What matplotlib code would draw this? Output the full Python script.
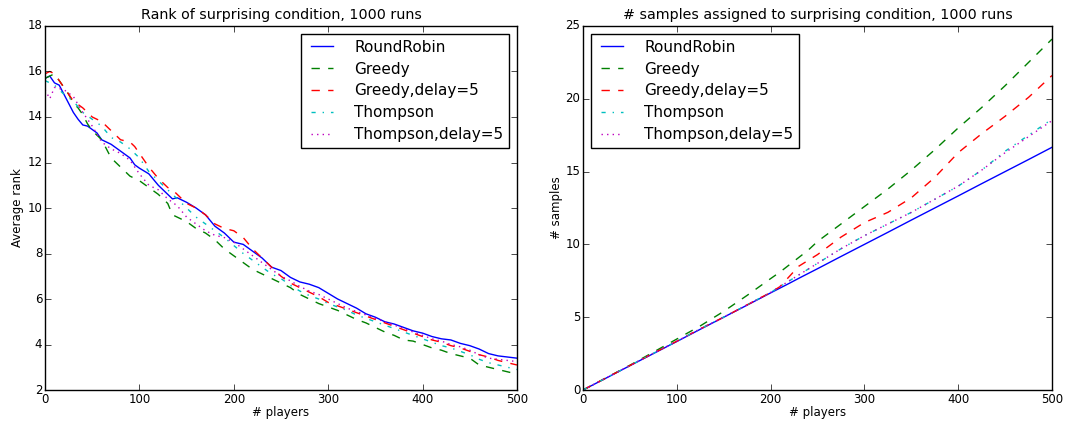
import matplotlib
matplotlib.use('Agg')
from matplotlib import pyplot as plt

plt.style.use('classic')

labels = ['RoundRobin', 'Greedy', 'Greedy,delay=5', 'Thompson', 'Thompson,delay=5']
colors = ['b', 'g', 'r', 'c', 'm']
styles = ['-', '--', '--', '-.', ':']

# 왼쪽: 평균 순위
x_rank = [0, 5, 10, 15, 20, 25, 30, 35, 40, 45, 50, 55, 60, 70, 80, 90, 95, 100, 110, 120,
          130, 135, 140, 150, 160, 170, 180, 190, 200, 210, 220, 230, 240, 250, 260, 270,
          280, 290, 300, 310, 320, 330, 340, 350, 360, 370, 380, 390, 400, 410, 420, 430,
          440, 450, 460, 470, 480, 490, 500]
rank_rr = [15.7, 15.8, 15.5, 15.4, 15.0, 14.6, 14.2, 13.9, 13.65, 13.6, 13.45, 13.3, 13.0,
           12.8, 12.5, 12.2, 11.9, 11.75, 11.5, 11.0, 10.6, 10.4, 10.45, 10.25, 10.0, 9.7,
           9.2, 8.9, 8.5, 8.4, 8.1, 7.8, 7.4, 7.25, 6.95, 6.75, 6.65, 6.5, 6.25, 6.0, 5.8,
           5.6, 5.35, 5.2, 5.0, 4.9, 4.75, 4.6, 4.5, 4.35, 4.25, 4.2, 4.05, 3.95, 3.8, 3.6,
           3.5, 3.45, 3.4]
rank_greedy = [15.7, 15.8, 15.9, 15.6, 15.3, 15.0, 14.6, 14.4, 14.1, 13.7, 13.4, 13.2, 13.0,
               12.2, 11.8, 11.4, 11.3, 11.2, 10.9, 10.6, 10.2, 9.7, 9.6, 9.4, 9.1, 8.9, 8.6,
               8.2, 7.9, 7.6, 7.3, 7.1, 6.9, 6.7, 6.5, 6.2, 6.0, 5.8, 5.65, 5.5, 5.3, 5.1,
               4.95, 4.75, 4.55, 4.4, 4.2, 4.15, 4.0, 3.85, 3.75, 3.6, 3.5, 3.4, 3.1, 3.0,
               2.9, 2.8, 2.7]
rank_greedy_d = [15.9, 16.0, 15.9, 15.6, 15.3, 15.0, 14.7, 14.55, 14.4, 14.2, 14.0, 13.9,
                 13.8, 13.4, 13.0, 12.9, 12.7, 12.4, 11.8, 11.3, 10.9, 10.8, 10.6, 10.2, 10.0,
                 9.7, 9.3, 9.1, 9.0, 8.7, 8.2, 7.8, 7.4, 7.0, 6.7, 6.5, 6.3, 6.1, 5.85, 5.7,
                 5.55, 5.4, 5.25, 5.1, 4.95, 4.8, 4.65, 4.5, 4.35, 4.2, 4.1, 3.95, 3.85, 3.7,
                 3.55, 3.45, 3.3, 3.2, 3.1]
rank_thompson = [15.6, 15.5, 15.4, 15.2, 15.0, 14.85, 14.7, 14.45, 14.2, 14.05, 13.9, 13.75,
                 13.6, 13.1, 12.9, 12.6, 12.4, 12.2, 11.6, 11.2, 10.8, 10.6, 10.4, 10.0, 9.6,
                 9.3, 9.0, 8.7, 8.35, 8.0, 7.7, 7.4, 7.1, 6.9, 6.6, 6.35, 6.15, 6.0, 5.8,
                 5.65, 5.5, 5.3, 5.15, 5.0, 4.85, 4.7, 4.55, 4.4, 4.25, 4.1, 3.95, 3.85, 3.7,
                 3.55, 3.35, 3.2, 3.1, 3.0, 2.9]
rank_thompson_d = [15.2, 14.8, 15.3, 15.25, 15.2, 15.05, 14.9, 14.55, 14.2, 13.9, 13.6, 13.25,
                   12.9, 12.6, 12.4, 12.1, 11.8, 11.5, 11.0, 10.8, 10.4, 10.25, 10.1, 9.6,
                   9.3, 9.0, 8.8, 8.7, 8.5, 8.2, 7.9, 7.6, 7.3, 7.0, 6.8, 6.55, 6.35, 6.2,
                   6.0, 5.8, 5.6, 5.45, 5.3, 5.15, 5.0, 4.85, 4.7, 4.55, 4.4, 4.25, 4.15, 4.0,
                   3.9, 3.75, 3.55, 3.4, 3.35, 3.3, 3.25]

# 오른쪽: 샘플 수
x_samp = [0, 25, 50, 75, 100, 125, 150, 175, 200, 210, 220, 230, 240, 250, 275, 300, 325,
          350, 375, 400, 425, 450, 475, 500]
samp_rr = [0.0, 0.83, 1.67, 2.5, 3.33, 4.17, 5.0, 5.83, 6.67, 7.0, 7.33, 7.67, 8.0, 8.33,
           9.17, 10.0, 10.83, 11.67, 12.5, 13.33, 14.17, 15.0, 15.83, 16.67]
samp_greedy = [0.0, 0.85, 1.7, 2.6, 3.5, 4.4, 5.4, 6.5, 7.65, 8.1, 8.6, 9.1, 9.6, 10.2,
               11.4, 12.6, 13.8, 15.1, 16.5, 18.0, 19.4, 20.9, 22.5, 24.1]
samp_greedy_d = [0.0, 0.84, 1.68, 2.52, 3.35, 4.2, 5.0, 5.85, 6.7, 7.1, 7.8, 8.5, 8.9, 9.3,
                 10.5, 11.5, 12.2, 13.2, 14.6, 16.3, 17.6, 18.8, 20.1, 21.6]
samp_thompson = [0.0, 0.84, 1.68, 2.52, 3.35, 4.2, 5.0, 5.85, 6.7, 7.1, 7.5, 7.9, 8.3, 8.7,
                 9.7, 10.6, 11.4, 12.2, 13.1, 14.0, 15.1, 16.4, 17.5, 18.6]
samp_thompson_d = [0.0, 0.84, 1.68, 2.52, 3.35, 4.2, 5.0, 5.85, 6.7, 7.1, 7.5, 7.9, 8.3,
                   8.7, 9.7, 10.6, 11.4, 12.2, 13.1, 14.0, 15.1, 16.3, 17.4, 18.5]

rank_data = [rank_rr, rank_greedy, rank_greedy_d, rank_thompson, rank_thompson_d]
samp_data = [samp_rr, samp_greedy, samp_greedy_d, samp_thompson, samp_thompson_d]

fig = plt.figure(figsize=(10.65, 4.22), dpi=100)
fig.patch.set_facecolor('white')
ax1 = fig.add_axes([0.0423, 0.0758, 0.4431, 0.8626])
ax2 = fig.add_axes([0.5474, 0.0758, 0.4404, 0.8626])

for y, c, s, lab in zip(rank_data, colors, styles, labels):
    ax1.plot(x_rank, y, color=c, linestyle=s, label=lab, linewidth=1)
ax1.set_xlim(0, 500)
ax1.set_ylim(2, 18)
ax1.set_title('Rank of surprising condition, 1000 runs', fontsize=10.3)
ax1.set_xlabel('# players', fontsize=8.5)
ax1.set_ylabel('Average rank', fontsize=8.5)
ax1.legend(loc='upper right', fontsize=11, labelspacing=0.45, handletextpad=1.1)

for y, c, s, lab in zip(samp_data, colors, styles, labels):
    ax2.plot(x_samp, y, color=c, linestyle=s, label=lab, linewidth=1)
ax2.set_xlim(0, 500)
ax2.set_ylim(0, 25)
ax2.set_title('# samples assigned to surprising condition, 1000 runs', fontsize=10.3)
ax2.set_xlabel('# players', fontsize=8.5)
ax2.set_ylabel('# samples', fontsize=8.5)
ax2.legend(loc='upper left', fontsize=11, labelspacing=0.45, handletextpad=1.1)

for ax in (ax1, ax2):
    ax.tick_params(labelsize=8.5, pad=2)
    ax.xaxis.labelpad = 0
    ax.yaxis.labelpad = 2

fig.savefig('out.png', dpi=100, facecolor='white')
